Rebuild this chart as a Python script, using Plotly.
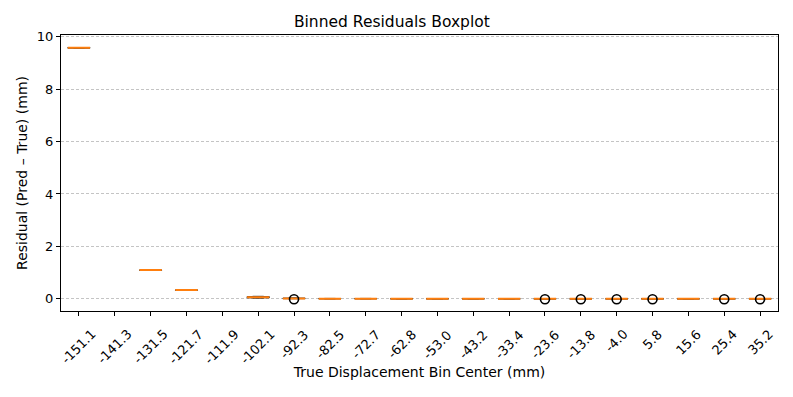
import plotly.graph_objects as go

# bin centres (mm) as category labels
bins = ["-151.1", "-141.3", "-131.5", "-121.7", "-111.9", "-102.1", "-92.3", "-82.5",
        "-72.7", "-62.8", "-53.0", "-43.2", "-33.4", "-23.6", "-13.8", "-4.0",
        "5.8", "15.6", "25.4", "35.2"]

# box statistics per bin (None = empty bin)
q1 = [9.56, None, 1.09, 0.33, None, 0.04, 0.01, 0.005, 0.005, 0.004, 0.004, 0.004,
      0.004, 0.002, 0.002, 0.002, 0.002, 0.002, 0.002, 0.002]
median = [9.57, None, 1.10, 0.34, None, 0.06, 0.02, 0.01, 0.01, 0.005, 0.005, 0.005,
          0.005, 0.003, 0.003, 0.003, 0.003, 0.003, 0.003, 0.003]
q3 = [9.58, None, 1.10, 0.34, None, 0.09, 0.03, 0.015, 0.015, 0.006, 0.006, 0.006,
      0.006, 0.004, 0.004, 0.004, 0.004, 0.004, 0.004, 0.004]
lo = [9.56, None, 1.09, 0.33, None, 0.03, 0.01, 0.0, 0.0, 0.0, 0.0, 0.0,
      0.0, 0.0, 0.0, 0.0, 0.0, 0.0, 0.0, 0.0]
hi = [9.58, None, 1.10, 0.34, None, 0.10, 0.04, 0.02, 0.02, 0.01, 0.01, 0.01,
      0.01, 0.006, 0.006, 0.006, 0.006, 0.006, 0.006, 0.006]

# outliers (fliers)
out_x = ["-92.3", "-23.6", "-13.8", "-4.0", "5.8", "25.4", "35.2"]
out_y = [-0.01, -0.01, -0.01, -0.01, -0.01, -0.01, -0.01]

keep = [i for i, m in enumerate(median) if m is not None]
xs = [bins[i] for i in keep]

fig = go.Figure()
# box + whiskers (black)
fig.add_trace(go.Box(
    x=xs, q1=[q1[i] for i in keep], median=[median[i] for i in keep],
    q3=[q3[i] for i in keep], lowerfence=[lo[i] for i in keep],
    upperfence=[hi[i] for i in keep], width=0.62, whiskerwidth=0.5,
    line=dict(color="#333333", width=1), fillcolor="rgba(0,0,0,0)",
    boxpoints=False, showlegend=False, hoverinfo="skip"))
# orange median line
fig.add_trace(go.Box(
    x=xs, q1=[median[i] for i in keep], median=[median[i] for i in keep],
    q3=[median[i] for i in keep], lowerfence=[median[i] for i in keep],
    upperfence=[median[i] for i in keep], width=0.62, whiskerwidth=0,
    line=dict(color="#ff7f0e", width=2), fillcolor="rgba(0,0,0,0)",
    boxpoints=False, showlegend=False))
fig.add_trace(go.Scatter(
    x=out_x, y=out_y, mode="markers", showlegend=False,
    marker=dict(symbol="circle-open", size=9, color="black", line=dict(width=1.6))))

# rotated tick labels centred under each tick (matplotlib style)
for i, b in enumerate(bins):
    fig.add_annotation(x=i, y=0, xref="x", yref="paper", text=b, showarrow=False,
                       textangle=-45, xanchor="center", yanchor="top", yshift=-13,
                       font=dict(size=13, family="DejaVu Sans", color="black"))

# page body has an 8px margin, so the figure is 8px smaller than the window
fig.update_layout(
    width=785, height=389, boxmode="overlay",
    paper_bgcolor="white", plot_bgcolor="white",
    font=dict(family="DejaVu Sans", size=13, color="black"),
    margin=dict(l=53, r=15, t=27, b=86, autoexpand=False),
    title=dict(text="Binned Residuals Boxplot", xref="container", x=0.489, xanchor="center",
               yref="container", y=0.966, yanchor="middle", font=dict(size=15.5)),
)
fig.update_xaxes(
    type="category", categoryorder="array", categoryarray=bins,
    range=[-0.5, len(bins) - 0.5], showticklabels=False, automargin=False,
    showline=True, mirror=True, linecolor="black", linewidth=1,
    ticks="outside", ticklen=4, tickcolor="black", showgrid=False,
    title=dict(text="True Displacement Bin Center (mm)", font=dict(size=14), standoff=52))
fig.update_yaxes(
    range=[-0.46, 10.06], tickvals=[0, 2, 4, 6, 8, 10], automargin=False,
    showline=True, mirror=True, linecolor="black", linewidth=1,
    ticks="outside", ticklen=4, tickcolor="black", zeroline=False,
    showgrid=True, gridcolor="#c4c4c4", griddash="3px,2px", gridwidth=0.8,
    title=dict(text="Residual (Pred – True) (mm)", font=dict(size=14), standoff=5))

fig.write_html("out.html")
